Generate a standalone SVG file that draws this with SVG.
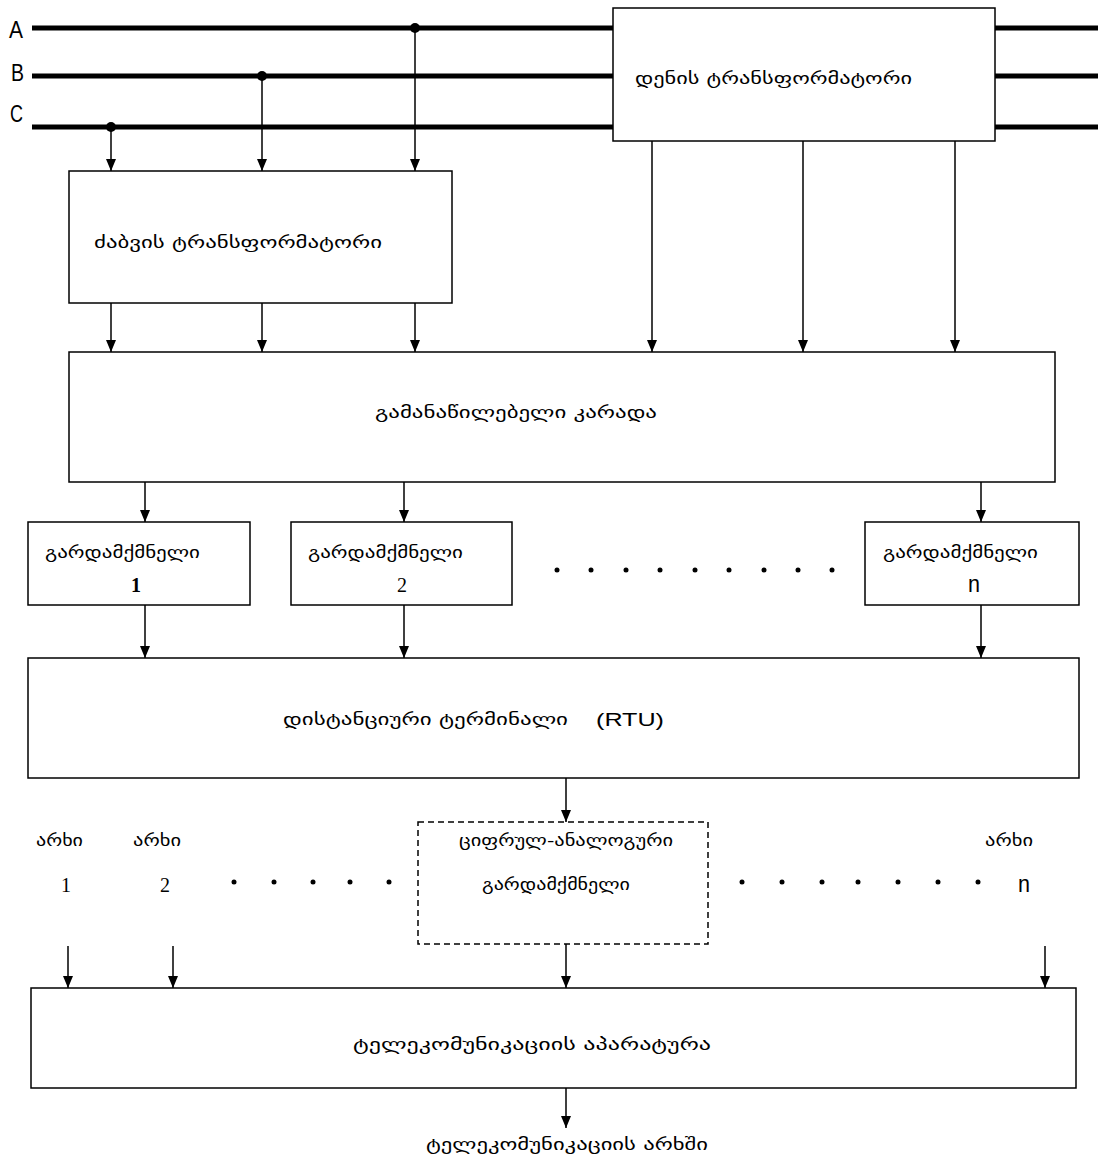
<svg xmlns="http://www.w3.org/2000/svg" width="1098" height="1163" viewBox="0 0 1098 1163">
<style>
.box{fill:#fff;stroke:#000;stroke-width:1.5}
.dash{fill:none;stroke:#000;stroke-width:1.5;stroke-dasharray:6,4}
.bus{stroke:#000;stroke-width:5}
.ln{stroke:#000;stroke-width:1.5;fill:none}
.ge{font-family:"DejaVu Sans",sans-serif;font-size:16px;fill:#000}
.lat{font-family:"Liberation Sans",sans-serif;font-size:18px;fill:#000}
.big{font-family:"Liberation Sans",sans-serif;font-size:24px;fill:#000}
.ser{font-family:"Liberation Serif",serif;font-size:20px;fill:#000}
.dot{fill:#000}
</style>
<defs>
<marker id="ah" viewBox="0 0 12 10" refX="12" refY="5" markerWidth="12" markerHeight="10" markerUnits="userSpaceOnUse" orient="auto">
<path d="M0,0 L12,5 L0,10 Z" fill="#000"/>
</marker>
</defs>
<g id="bus">
<line class="bus" x1="32" y1="28" x2="1098" y2="28"/>
<line class="bus" x1="32" y1="76" x2="1098" y2="76"/>
<line class="bus" x1="32" y1="127" x2="1098" y2="127"/>
<text class="big" x="9" y="38" textLength="14" lengthAdjust="spacingAndGlyphs">A</text>
<text class="big" x="11" y="81" textLength="13" lengthAdjust="spacingAndGlyphs">B</text>
<text class="big" x="10" y="122" textLength="13" lengthAdjust="spacingAndGlyphs">C</text>
<circle class="dot" cx="415" cy="28" r="5"/>
<circle class="dot" cx="262" cy="76" r="5"/>
<circle class="dot" cx="111" cy="127" r="5"/>
</g>
<g id="connectors">
<line class="ln" x1="111" y1="127" x2="111" y2="171" marker-end="url(#ah)"/>
<line class="ln" x1="262" y1="76" x2="262" y2="171" marker-end="url(#ah)"/>
<line class="ln" x1="415" y1="28" x2="415" y2="171" marker-end="url(#ah)"/>
<line class="ln" x1="111" y1="303" x2="111" y2="352" marker-end="url(#ah)"/>
<line class="ln" x1="262" y1="303" x2="262" y2="352" marker-end="url(#ah)"/>
<line class="ln" x1="415" y1="303" x2="415" y2="352" marker-end="url(#ah)"/>
<line class="ln" x1="652" y1="141" x2="652" y2="352" marker-end="url(#ah)"/>
<line class="ln" x1="803" y1="141" x2="803" y2="352" marker-end="url(#ah)"/>
<line class="ln" x1="955" y1="141" x2="955" y2="352" marker-end="url(#ah)"/>
<line class="ln" x1="145" y1="482" x2="145" y2="522" marker-end="url(#ah)"/>
<line class="ln" x1="404" y1="482" x2="404" y2="522" marker-end="url(#ah)"/>
<line class="ln" x1="981" y1="482" x2="981" y2="522" marker-end="url(#ah)"/>
<line class="ln" x1="145" y1="605" x2="145" y2="658" marker-end="url(#ah)"/>
<line class="ln" x1="404" y1="605" x2="404" y2="658" marker-end="url(#ah)"/>
<line class="ln" x1="981" y1="605" x2="981" y2="658" marker-end="url(#ah)"/>
<line class="ln" x1="566" y1="778" x2="566" y2="822" marker-end="url(#ah)"/>
<line class="ln" x1="566" y1="944" x2="566" y2="988" marker-end="url(#ah)"/>
<line class="ln" x1="68" y1="946" x2="68" y2="988" marker-end="url(#ah)"/>
<line class="ln" x1="173" y1="946" x2="173" y2="988" marker-end="url(#ah)"/>
<line class="ln" x1="1045" y1="946" x2="1045" y2="988" marker-end="url(#ah)"/>
<line class="ln" x1="566" y1="1088" x2="566" y2="1128" marker-end="url(#ah)"/>
</g>
<g id="current-transformer">
<rect class="box" x="613" y="8" width="382" height="133"/>
<text class="ge" x="635" y="84" textLength="277" lengthAdjust="spacingAndGlyphs">დენის  ტრანსფორმატორი</text>
</g>
<g id="voltage-transformer">
<rect class="box" x="69" y="171" width="383" height="132"/>
<text class="ge" x="94" y="248" textLength="288" lengthAdjust="spacingAndGlyphs">ძაბვის  ტრანსფორმატორი</text>
</g>
<g id="distribution">
<rect class="box" x="69" y="352" width="986" height="130"/>
<text class="ge" x="375" y="418" textLength="282" lengthAdjust="spacingAndGlyphs">გამანაწილებელი    კარადა</text>
</g>
<g id="conv1">
<rect class="box" x="28" y="522" width="222" height="83"/>
<text class="ge" x="45" y="558" textLength="155" lengthAdjust="spacingAndGlyphs">გარდამქმნელი</text>
<text class="ser" x="131" y="592" font-weight="bold">1</text>
</g>
<g id="conv2">
<rect class="box" x="291" y="522" width="221" height="83"/>
<text class="ge" x="308" y="558" textLength="155" lengthAdjust="spacingAndGlyphs">გარდამქმნელი</text>
<text class="ser" x="397" y="592">2</text>
</g>
<g id="convn">
<rect class="box" x="865" y="522" width="214" height="83"/>
<text class="ge" x="883" y="558" textLength="155" lengthAdjust="spacingAndGlyphs">გარდამქმნელი</text>
<text class="big" x="968" y="592" textLength="12" lengthAdjust="spacingAndGlyphs">n</text>
</g>
<g id="dots1">
<circle class="dot" cx="557" cy="570" r="2.5"/>
<circle class="dot" cx="591" cy="570" r="2.5"/>
<circle class="dot" cx="626" cy="570" r="2.5"/>
<circle class="dot" cx="660" cy="570" r="2.5"/>
<circle class="dot" cx="695" cy="570" r="2.5"/>
<circle class="dot" cx="729" cy="570" r="2.5"/>
<circle class="dot" cx="764" cy="570" r="2.5"/>
<circle class="dot" cx="798" cy="570" r="2.5"/>
<circle class="dot" cx="832" cy="570" r="2.5"/>
</g>
<g id="rtu">
<rect class="box" x="28" y="658" width="1051" height="120"/>
<text class="ge" x="283" y="725" textLength="285" lengthAdjust="spacingAndGlyphs">დისტანციური  ტერმინალი</text>
<text class="lat" x="596" y="726" font-size="21" textLength="68" lengthAdjust="spacingAndGlyphs">(RTU)</text>
</g>
<g id="dac">
<rect class="dash" x="418" y="822" width="290" height="122"/>
<text class="ge" x="459" y="846" textLength="214" lengthAdjust="spacingAndGlyphs">ციფრულ-ანალოგური</text>
<text class="ge" x="482" y="890" textLength="148" lengthAdjust="spacingAndGlyphs">გარდამქმნელი</text>
</g>
<g id="channels">
<text class="ge" x="36" y="846" textLength="47" lengthAdjust="spacingAndGlyphs">არხი</text>
<text class="ge" x="133" y="846" textLength="48" lengthAdjust="spacingAndGlyphs">არხი</text>
<text class="ge" x="985" y="846" textLength="48" lengthAdjust="spacingAndGlyphs">არხი</text>
<text class="ser" x="61" y="892">1</text>
<text class="ser" x="160" y="892">2</text>
<text class="big" x="1018" y="892" textLength="12" lengthAdjust="spacingAndGlyphs">n</text>
<circle class="dot" cx="234" cy="882" r="2.5"/>
<circle class="dot" cx="274" cy="882" r="2.5"/>
<circle class="dot" cx="313" cy="882" r="2.5"/>
<circle class="dot" cx="350" cy="882" r="2.5"/>
<circle class="dot" cx="389" cy="882" r="2.5"/>
<circle class="dot" cx="742" cy="882" r="2.5"/>
<circle class="dot" cx="782" cy="882" r="2.5"/>
<circle class="dot" cx="822" cy="882" r="2.5"/>
<circle class="dot" cx="858" cy="882" r="2.5"/>
<circle class="dot" cx="898" cy="882" r="2.5"/>
<circle class="dot" cx="938" cy="882" r="2.5"/>
<circle class="dot" cx="978" cy="882" r="2.5"/>
</g>
<g id="telecom">
<rect class="box" x="31" y="988" width="1045" height="100"/>
<text class="ge" x="353" y="1050" textLength="358" lengthAdjust="spacingAndGlyphs">ტელეკომუნიკაციის    აპარატურა</text>
</g>
<g id="network">
<text class="ge" x="426" y="1150" textLength="282" lengthAdjust="spacingAndGlyphs">ტელეკომუნიკაციის  არხში</text>
</g>
</svg>
